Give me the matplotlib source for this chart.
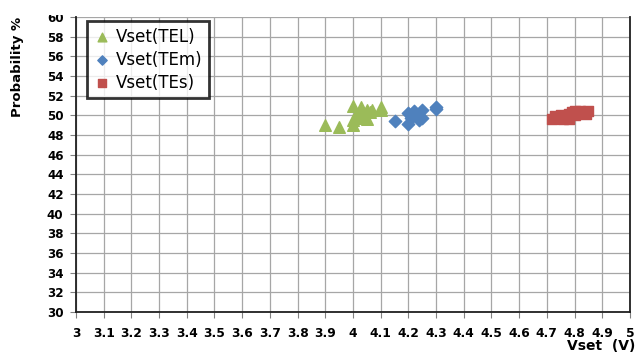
import matplotlib
matplotlib.use("Agg")
from matplotlib import pyplot as plt
from matplotlib.patches import Rectangle

plt.rcParams['font.family'] = ['DejaVu Sans']

# Vset distributions for the three devices
tel_v = [3.90, 3.95, 4.00, 4.00, 4.00, 4.01, 4.02, 4.02, 4.03, 4.03, 4.04, 4.05, 4.05, 4.06, 4.07, 4.10, 4.10]
tel_p = [49.0, 48.8, 49.0, 51.0, 49.5, 50.0, 49.7, 50.2, 50.9, 49.9, 50.2, 50.5, 49.6, 50.3, 50.5, 50.9, 50.5]

tem_v = [4.15, 4.20, 4.20, 4.21, 4.22, 4.23, 4.24, 4.25, 4.25, 4.30, 4.30]
tem_p = [49.4, 49.1, 50.2, 49.7, 50.4, 49.9, 49.5, 50.5, 49.7, 50.9, 50.6]

tes_v = [4.72, 4.73, 4.74, 4.75, 4.76, 4.77, 4.78, 4.78, 4.79, 4.80, 4.80, 4.81, 4.82, 4.83, 4.84, 4.85]
tes_p = [49.6, 49.9, 49.7, 50.0, 49.6, 49.9, 50.1, 49.6, 50.3, 50.0, 50.4, 50.2, 50.4, 50.3, 50.1, 50.4]

xticks = [round(3 + 0.1 * i, 1) for i in range(21)]
xlabels = ['%g' % v for v in xticks]
yticks = list(range(30, 61, 2))

fig = plt.figure(figsize=(6.35, 3.52), dpi=100)
ax = fig.add_axes([0.1197, 0.1136, 0.8723, 0.838])

ax.scatter(tel_v, tel_p, marker='^', s=70, color='#9BBB59', label='Vset(TEL)', zorder=3)
ax.scatter(tem_v, tem_p, marker='D', s=40, color='#4F81BD', label='Vset(TEm)', zorder=3)
ax.scatter(tes_v, tes_p, marker='s', s=50, color='#C0504D', label='Vset(TEs)', zorder=3)

ax.set_xlim(3, 5)
ax.set_ylim(30, 60)
ax.set_xticks(xticks)
ax.set_xticklabels(xlabels)
ax.set_yticks(yticks)
ax.grid(True, color='#A6A6A6', linewidth=0.9)
ax.set_axisbelow(True)

for lab in ax.get_xticklabels():
    lab.set_fontweight('bold')
    lab.set_fontsize(8.8)
for lab in ax.get_yticklabels():
    lab.set_fontweight('bold')
    lab.set_fontsize(8.6)
ax.tick_params(axis='both', direction='out', length=4, color='#808080', pad=5)
ax.tick_params(axis='x', pad=7)

for side in ['left', 'bottom', 'right']:
    ax.spines[side].set_color('#202020')
    ax.spines[side].set_linewidth(1.3)
ax.spines['top'].set_visible(False)

fig.text(18 / 635, 1 - 17 / 352, 'Probability %', rotation=90, ha='center', va='top',
         fontsize=9.5, fontweight='bold')
fig.text(635 / 635, 1 - 346 / 352, 'Vset  (V)', ha='right', va='center',
         fontsize=10, fontweight='bold')

leg = ax.legend(loc='upper left', bbox_to_anchor=(0.005, 1.015), fontsize=12,
                frameon=True, fancybox=False, handletextpad=0.3, borderpad=0.4,
                labelspacing=0.3, handlelength=1.0, scatterpoints=1, markerscale=0.75)
leg.get_frame().set_edgecolor('black')
leg.get_frame().set_linewidth(2)

# white band over the top edge
fig.patches.append(Rectangle((0, 1 - 15 / 352), 1, 15 / 352, transform=fig.transFigure,
                             facecolor='white', edgecolor='none', zorder=10))

fig.savefig('out.png', dpi=100)
